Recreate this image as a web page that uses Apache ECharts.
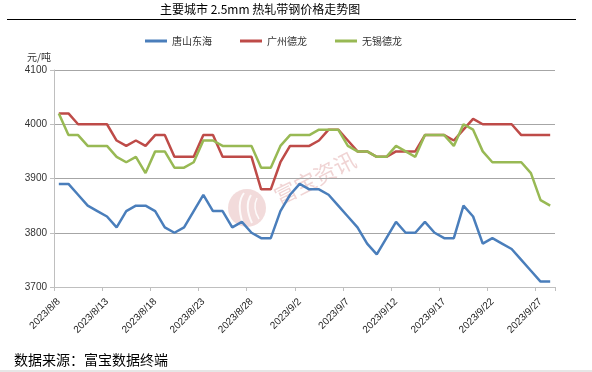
<!DOCTYPE html>
<html>
<head>
<meta charset="utf-8">
<script src="https://cdn.jsdelivr.net/npm/echarts@6/dist/echarts.min.js"></script>
<style>
html,body{margin:0;padding:0;background:#fff;}
#c{width:592px;height:372px;}
</style>
</head>
<body>
<div id="c"></div>
<script>
var categories = [
 "2023/8/8","2023/8/9","2023/8/10","2023/8/11","2023/8/12","2023/8/13","2023/8/14","2023/8/15","2023/8/16","2023/8/17",
 "2023/8/18","2023/8/19","2023/8/20","2023/8/21","2023/8/22","2023/8/23","2023/8/24","2023/8/25","2023/8/26","2023/8/27",
 "2023/8/28","2023/8/29","2023/8/30","2023/8/31","2023/9/1","2023/9/2","2023/9/3","2023/9/4","2023/9/5","2023/9/6",
 "2023/9/7","2023/9/8","2023/9/9","2023/9/10","2023/9/11","2023/9/12","2023/9/13","2023/9/14","2023/9/15","2023/9/16",
 "2023/9/17","2023/9/18","2023/9/19","2023/9/20","2023/9/21","2023/9/22","2023/9/23","2023/9/24","2023/9/25","2023/9/26",
 "2023/9/27","2023/9/28"
];
var tangshanDonghai = [
 3890,3890,3870,3850,3840,3830,3810,3840,3850,3850,3840,3810,3800,3810,3840,3870,3840,3840,3810,3820,3800,3790,3790,3840,3870,3890,3880,3880,
 3870,3850,3830,3810,3780,3760,3790,3820,3800,3800,3820,3800,3790,3790,3850,3830,3780,3790,3780,3770,3750,3730,3710,3710
];
var guangzhouDelong = [
 4020,4020,4000,4000,4000,4000,3970,3960,3970,3960,3980,3980,3940,3940,3940,3980,3980,3940,3940,3940,3940,3880,3880,3930,3960,3960,3960,3970,
 3990,3990,3970,3950,3950,3940,3940,3950,3950,3950,3980,3980,3980,3970,3990,4010,4000,4000,4000,4000,3980,3980,3980,3980
];
var wuxiDelong = [
 4020,3980,3980,3960,3960,3960,3940,3930,3940,3910,3950,3950,3920,3920,3930,3970,3970,3960,3960,3960,3960,3920,3920,3960,3980,3980,3980,3990,
 3990,3990,3960,3950,3950,3940,3940,3960,3950,3940,3980,3980,3980,3960,4000,3990,3950,3930,3930,3930,3930,3910,3860,3850
];
var seriesNames = ["唐山东海","广州德龙","无锡德龙"];
var seriesColors = ["#4a7ebb","#be4b48","#98b954"];
var yTicks = {min:3700, max:4100, interval:100};

var chart = echarts.init(document.getElementById('c'), null, {renderer:'canvas'});
var cjk = "'Noto Sans CJK SC', sans-serif";
var lat = "'Liberation Sans', Arial, sans-serif";
var datas = [tangshanDonghai, guangzhouDelong, wuxiDelong];

chart.setOption({
  animation:false,
  backgroundColor:'#fff',
  color: seriesColors,
  grid:{left:54, right:37, top:70, bottom:85, containLabel:false},
  legend:{
    left:145, top:36, padding:0,
    itemWidth:22, itemHeight:3, itemGap:28, icon:'rect',
    textStyle:{fontSize:10, color:'#333', fontFamily:cjk},
    data: seriesNames
  },
  xAxis:{
    type:'category', boundaryGap:true, data:categories,
    axisLine:{lineStyle:{color:'#bfbfbf', width:1}},
    axisTick:{show:true, interval:4, length:4, lineStyle:{color:'#bfbfbf'}},
    axisLabel:{interval:4, rotate:45, fontSize:10, color:'#222', margin:13, fontFamily:lat}
  },
  yAxis:{
    type:'value', min:yTicks.min, max:yTicks.max, interval:yTicks.interval,
    axisLine:{show:true, lineStyle:{color:'#bfbfbf', width:1}},
    axisTick:{show:true, length:4, lineStyle:{color:'#bfbfbf'}},
    axisLabel:{fontSize:10, color:'#333', margin:7, fontFamily:lat, formatter:function(v){return String(v);}},
    splitLine:{show:true, lineStyle:{color:'#a6a6a6', width:1}}
  },
  graphic:[
    {type:'text', x:160, y:3, style:{text:'主要城市 2.5mm 热轧带钢价格走势图', fontSize:12, fill:'#000', fontFamily:cjk}},
    {type:'line', shape:{x1:7, y1:19.5, x2:576, y2:19.5}, style:{stroke:'#000', lineWidth:1}},
    {type:'text', x:27, y:52, style:{text:'元/吨', fontSize:10, fill:'#333', fontFamily:cjk}},
    {type:'text', x:14, y:353, style:{text:'数据来源：富宝数据终端', fontSize:14, fill:'#000', fontFamily:cjk}},
    {type:'rect', shape:{x:0, y:370, width:592, height:2}, style:{fill:'#e6e6e6'}},
    {type:'circle', z:0, shape:{cx:247, cy:208, r:19}, style:{fill:'rgba(232,190,190,0.55)'}},
    {type:'bezierCurve', z:0, shape:{x1:244, y1:193, cpx1:236, cpy1:203, x2:243, y2:224}, style:{stroke:'rgba(255,255,255,0.85)', lineWidth:2, fill:null}},
    {type:'bezierCurve', z:0, shape:{x1:251, y1:195, cpx1:244, cpy1:206, x2:252, y2:223}, style:{stroke:'rgba(255,255,255,0.85)', lineWidth:2, fill:null}},
    {type:'bezierCurve', z:0, shape:{x1:257, y1:198, cpx1:252, cpy1:208, x2:259, y2:219}, style:{stroke:'rgba(255,255,255,0.85)', lineWidth:1.5, fill:null}},
    {type:'text', z:0, x:315, y:178, rotation:27*Math.PI/180, style:{text:'富宝资讯', fontSize:22, fill:'rgba(226,170,170,0.5)', fontFamily:cjk, align:'center', verticalAlign:'middle'}}
  ],
  series: seriesNames.map(function(n,i){
    return {name:n, type:'line', data:datas[i], symbol:'none', z:3,
      lineStyle:{width:2.5, color:seriesColors[i]}, itemStyle:{color:seriesColors[i]}};
  })
});
</script>
</body>
</html>
